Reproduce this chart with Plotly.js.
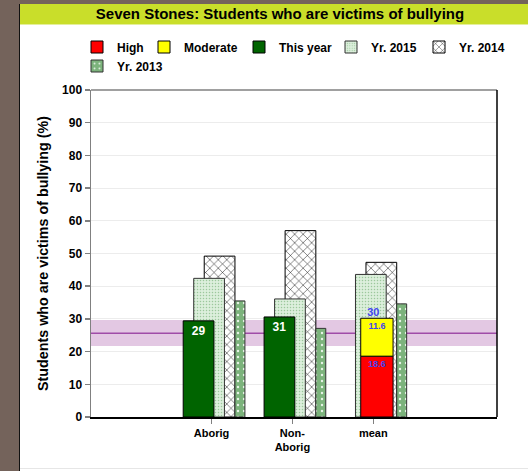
<!DOCTYPE html>
<html>
<head>
<meta charset="utf-8">
<script src="https://cdn.plot.ly/plotly-3.0.1.min.js"></script>
<style>
  html, body { margin: 0; padding: 0; background: #74635b; }
  #chart { width: 528px; height: 471px; }
</style>
</head>
<body>
<div id="chart"></div>
<script>
// ---- data ----
const categories = ['Aborig', 'Non-Aborig', 'mean'];
const tickLabels = ['Aborig', 'Non-<br>Aborig', 'mean'];
const thisYear = [29.4, 30.6, null];
const yr2015 = [42.4, 36.1, 43.6];
const yr2014 = [49.2, 57.0, 47.3];
const yr2013 = [35.5, 27.1, 34.6];
const high = [null, null, 18.6];
const moderate = [null, null, 11.6];
const stateMean = 25.6;
const stateBandLow = 21.7;
const stateBandHigh = 29.7;
const yTicks = [0, 10, 20, 30, 40, 50, 60, 70, 80, 90, 100];

// ---- layout helpers (pixel -> paper) ----
const PL = 91, PR = 497, PT = 90, PB = 417;
const fx = px => (px - PL) / (PR - PL);
const fy = py => (PB - py) / (PB - PT);

const FONT = 'Liberation Sans, Arial, Helvetica, sans-serif';
const BLUE = '#4444ee';
const lbl = arr => arr.map(v => v == null ? '' : String(v));
const totals = high.map((h, i) => h == null ? null : +(h + moderate[i]).toFixed(1));

const traces = [
  {
    type: 'bar', name: 'Yr. 2014', x: categories, y: yr2014,
    offset: -0.09, width: 0.38, legend: 'legend5',
    marker: { color: 'white', line: { color: '#000', width: 1 },
      pattern: { shape: 'x', fgcolor: '#000', bgcolor: 'white', size: 6, solidity: 0.15 } },
    hoverinfo: 'y'
  },
  {
    type: 'bar', name: 'Yr. 2015', x: categories, y: yr2015,
    offset: -0.22, width: 0.38, legend: 'legend4',
    marker: { color: '#dcefdc', line: { color: '#333', width: 1 },
      pattern: { shape: '.', fgcolor: '#9cc89c', bgcolor: '#dcefdc', size: 3, solidity: 0.2 } },
    hoverinfo: 'y'
  },
  {
    type: 'bar', name: 'Yr. 2013', x: categories, y: yr2013,
    offset: 0.29, width: 0.123, legend: 'legend6',
    marker: { color: '#7fb47f', line: { color: '#333', width: 1 },
      pattern: { shape: '.', fgcolor: '#e8f4e8', bgcolor: '#7cb37c', size: 6, solidity: 0.12 } },
    hoverinfo: 'y'
  },
  {
    type: 'bar', name: 'This year', x: categories, y: thisYear,
    offset: -0.35, width: 0.38, legend: 'legend3',
    marker: { color: '#006400', line: { color: '#000', width: 1 } },
    text: thisYear.map(v => v == null ? '' : String(Math.round(v))),
    textposition: 'inside', insidetextanchor: 'end', textangle: 0, constraintext: 'none',
    textfont: { color: 'white', size: 12, family: FONT, weight: 'bold' },
    hoverinfo: 'y'
  },
  {
    type: 'bar', name: 'High', x: categories, y: high,
    offset: -0.155, width: 0.40, legend: 'legend',
    marker: { color: '#ff0000', line: { color: '#000', width: 1 } },
    text: lbl(high),
    textposition: 'inside', insidetextanchor: 'end', textangle: 0, constraintext: 'none',
    textfont: { color: BLUE, size: 9, family: FONT, weight: 'bold' },
    hoverinfo: 'y'
  },
  {
    type: 'bar', name: 'Moderate', x: categories, y: moderate, base: high,
    offset: -0.155, width: 0.40, legend: 'legend2',
    marker: { color: '#ffff00', line: { color: '#000', width: 1 } },
    text: lbl(moderate),
    textposition: 'inside', insidetextanchor: 'end', textangle: 0, constraintext: 'none',
    textfont: { color: BLUE, size: 9, family: FONT, weight: 'bold' },
    hoverinfo: 'y'
  },
  {
    type: 'scatter', mode: 'text', x: categories, y: totals,
    text: totals.map(v => v == null ? '' : String(Math.round(v))),
    textposition: 'top center', showlegend: false, cliponaxis: false,
    textfont: { color: BLUE, size: 11, family: FONT, weight: 'bold' },
    hoverinfo: 'skip'
  }
];

const legendAt = (px, py) => ({
  orientation: 'h', x: fx(px), xanchor: 'left', y: fy(py), yanchor: 'middle',
  bgcolor: 'rgba(0,0,0,0)', itemwidth: 30,
  font: { family: FONT, size: 12, color: '#000', weight: 'bold' }
});

const layout = {
  width: 528, height: 471,
  margin: { l: PL, r: 528 - PR, t: PT, b: 471 - PB, pad: 0 },
  paper_bgcolor: '#74635b',
  plot_bgcolor: 'rgba(0,0,0,0)',
  font: { family: FONT, size: 11, color: '#000', weight: 'bold' },
  barmode: 'overlay',
  title: {
    text: 'Seven Stones: Students who are victims of bullying',
    font: { family: FONT, size: 15, color: '#000', weight: 'bold' },
    xref: 'container', x: 280 / 528, xanchor: 'center',
    yref: 'container', y: 1 - 14 / 471, yanchor: 'middle'
  },
  xaxis: {
    type: 'category', categoryorder: 'array', categoryarray: categories,
    range: [-1.49, 3.53],
    tickmode: 'array', tickvals: categories, ticktext: tickLabels,
    ticks: 'outside', ticklen: 5, tickcolor: '#808080', tickwidth: 1.5,
    showline: true, linecolor: '#000', linewidth: 1.5,
    showgrid: false, zeroline: false, fixedrange: true,
    tickfont: { family: FONT, size: 11, color: '#000', weight: 'bold' }
  },
  yaxis: {
    range: [0, 100], tickmode: 'array', tickvals: yTicks,
    ticks: 'outside', ticklen: 5, tickcolor: '#808080', tickwidth: 1.5,
    showline: true, linecolor: '#808080', linewidth: 1.5,
    showgrid: true, gridcolor: '#ececec', gridwidth: 1, zeroline: false,
    fixedrange: true,
    tickfont: { family: FONT, size: 12, color: '#000', weight: 'bold' },
    title: {
      text: 'Students who are victims of bullying (%)',
      font: { family: FONT, size: 14.3, color: '#000', weight: 'bold' },
      standoff: 10
    }
  },
  legend: legendAt(77, 47),
  legend2: legendAt(144, 47),
  legend3: legendAt(239, 47),
  legend4: legendAt(331, 47),
  legend5: legendAt(419, 47),
  legend6: legendAt(77, 66),
  shapes: [
    // white panel
    { type: 'rect', xref: 'paper', yref: 'paper', layer: 'below',
      x0: fx(20), x1: fx(530), y0: fy(475), y1: fy(4),
      fillcolor: 'white', line: { width: 0 } },
    // title bar
    { type: 'rect', xref: 'paper', yref: 'paper', layer: 'below',
      x0: fx(20), x1: fx(530), y0: fy(24), y1: fy(4),
      fillcolor: '#c9de2a', line: { width: 0 } },
    { type: 'line', xref: 'paper', yref: 'paper', layer: 'below',
      x0: fx(20), x1: fx(530), y0: fy(24.5), y1: fy(24.5),
      line: { color: '#e4ef9a', width: 1 } },
    // dark left edge
    { type: 'line', xref: 'paper', yref: 'paper', layer: 'below',
      x0: fx(19.5), x1: fx(19.5), y0: fy(475), y1: fy(4),
      line: { color: '#111', width: 1 } },
    // bottom faint line
    { type: 'line', xref: 'paper', yref: 'paper', layer: 'below',
      x0: fx(20), x1: fx(530), y0: fy(468.5), y1: fy(468.5),
      line: { color: '#e6e6e6', width: 1 } },
    // state band & mean line
    { type: 'rect', xref: 'paper', yref: 'y', layer: 'below',
      x0: 0, x1: 1, y0: stateBandLow, y1: stateBandHigh,
      fillcolor: '#e3c8e3', line: { width: 0 } },
    { type: 'line', xref: 'paper', yref: 'y', layer: 'below',
      x0: 0, x1: 1, y0: stateMean, y1: stateMean,
      line: { color: '#a04ca8', width: 1.5 } },
    // frame top (gray) & right (black)
    { type: 'line', xref: 'paper', yref: 'paper', layer: 'above',
      x0: 0, x1: 1, y0: 1, y1: 1, line: { color: '#808080', width: 1.5 } },
    { type: 'line', xref: 'paper', yref: 'paper', layer: 'above',
      x0: 1, x1: 1, y0: 0, y1: 1, line: { color: '#000', width: 1.5 } }
  ]
};

Plotly.newPlot('chart', traces, layout, { displayModeBar: false, staticPlot: true });
</script>
</body>
</html>
